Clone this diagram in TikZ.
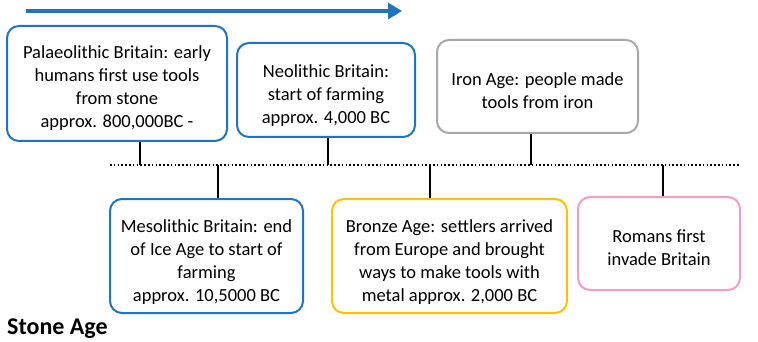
\documentclass[tikz,border=0pt]{standalone}
\usepackage{fontspec}
\setmainfont{Carlito}
\usetikzlibrary{arrows.meta}
\definecolor{eblue}{HTML}{1F74C1}
\definecolor{egray}{HTML}{A8A8A8}
\definecolor{egold}{HTML}{FFC000}
\definecolor{epink}{HTML}{F49BC9}
\begin{document}
\begin{tikzpicture}[x=1pt,y=-1pt,
  event/.style={draw=#1, line width=2pt, rounded corners=12pt, inner sep=0pt},
  etext/.style={align=center, inner sep=0pt, font=\fontsize{18.5}{23}\selectfont, text=black},
  link/.style={draw=black, line width=1.8pt},
  axisline/.style={draw=black, line width=1.6pt, dash pattern=on 1.6pt off 2.2pt}]
\useasboundingbox (0,0) rectangle (758,342);
% arrow
\coordinate (a0) at (26,11);
\coordinate (a1) at (402,11);
\draw[eblue, line width=4pt, -{Triangle[length=14pt,width=16pt]}] (a0) -- (a1);
% boxes
\node[event=eblue, minimum width=220pt, minimum height=115pt] (b1) at (117,83.5) {};
\node[event=eblue, minimum width=178pt, minimum height=94pt] (b2) at (326,90) {};
\node[event=egray, minimum width=201pt, minimum height=93pt] (b3) at (537.5,86.5) {};
\node[event=eblue, minimum width=193pt, minimum height=114pt] (b4) at (206.5,256) {};
\node[event=egold, minimum width=235pt, minimum height=114pt] (b5) at (449.5,256) {};
\node[event=epink, minimum width=162pt, minimum height=93pt] (b6) at (659,243.5) {};
% texts
\node[etext] (x1) at ([yshift=-5pt]b1.center)
  {Palaeolithic Britain: early\\humans first use tools\\from stone\\approx. 800,000BC -};
\node[etext] (x2) at ([yshift=-6pt]b2.center)
  {Neolithic Britain:\\start of farming\\approx. 4,000 BC};
\node[etext] (x3) at ([yshift=-4pt]b3.center)
  {Iron Age: people made\\tools from iron};
\node[etext] (x4) at ([yshift=-6pt]b4.center)
  {Mesolithic Britain: end\\of Ice Age to start of\\farming\\approx. 10,5000 BC};
\node[etext] (x5) at ([yshift=-6pt]b5.center)
  {Bronze Age: settlers arrived\\from Europe and brought\\ways to make tools with\\metal approx. 2,000 BC};
\node[etext] (x6) at ([yshift=-4.5pt]b6.center)
  {Romans first\\invade Britain};
% timeline
\coordinate (l0) at (110,165);
\coordinate (l1) at (740,165);
\draw[axisline] (l0) -- (l1);
\coordinate (t1) at (140,165);
\coordinate (t2) at (328,165);
\coordinate (t3) at (531,165);
\coordinate (t4) at (218,165);
\coordinate (t5) at (430,165);
\coordinate (t6) at (663,165);
\draw[link] (t1 |- b1.south) -- (t1);
\draw[link] (t2 |- b2.south) -- (t2);
\draw[link] (t3 |- b3.south) -- (t3);
\draw[link] (t4) -- (t4 |- b4.north);
\draw[link] (t5) -- (t5 |- b5.north);
\draw[link] (t6) -- (t6 |- b6.north);
\node[anchor=base west, inner sep=0pt, font=\fontsize{24}{28}\selectfont\bfseries] (sa) at (7,334) {Stone Age};
\end{tikzpicture}
\end{document}
